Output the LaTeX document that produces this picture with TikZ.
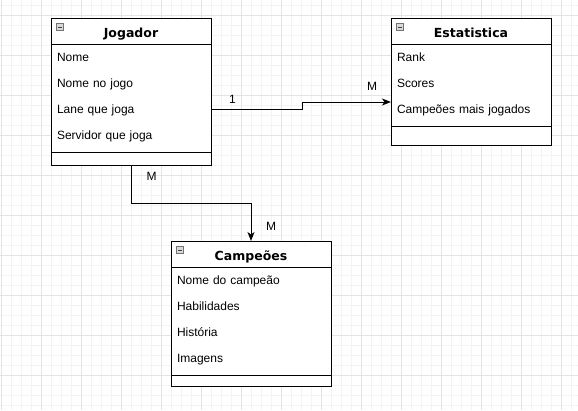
\documentclass[tikz,border=0pt]{standalone}
\usepackage{fontspec}
\setmainfont{Liberation Sans}
\newfontfamily\titlefont{DejaVu Sans}
\usepackage{tikz}
\usetikzlibrary{arrows.meta, positioning}
\definecolor{gridminor}{HTML}{F3F3F3}
\definecolor{gridmajor}{HTML}{E4E4E4}
\definecolor{iconfill}{HTML}{D9D9D9}

\begin{document}
\begin{tikzpicture}[x=1pt, y=-1pt,
    every node/.style={font=\fontsize{12}{14}\selectfont, inner sep=0pt, outer sep=0pt},
    classbox/.style={rectangle, draw=black, fill=white, line width=1pt, minimum width=160pt, anchor=north west},
    header/.style={rectangle, draw=black, line width=1pt, minimum width=160pt, minimum height=26pt, anchor=north west,
        text height=12pt, text depth=0pt, font=\titlefont\fontsize{12.5}{14}\selectfont\bfseries},
    attr/.style={rectangle, minimum width=160pt, minimum height=26pt, text width=148pt, align=left,
        text height=10pt, text depth=0.6pt},
    foot/.style={rectangle, draw=black, line width=1pt, minimum width=160pt, anchor=north west},
    icon/.style={rectangle, draw=black!55, fill=iconfill, line width=0.8pt, minimum size=7pt, anchor=north west,
        path picture={\draw[black!75, line width=1pt] ([xshift=1.5pt]path picture bounding box.west) -- ([xshift=-1.5pt]path picture bounding box.east);}},
    flow/.style={-{Stealth[length=9pt, width=7pt, inset=2.5pt]}, line width=1pt, color=black},
    card/.style={font=\fontsize{12}{14}\selectfont}
]
\useasboundingbox (0,0) rectangle (578,410);

% Grid
\foreach \gx in {1,11,...,571} \draw[gridminor, line width=0.6pt] (\gx,0) -- (\gx,410);
\foreach \gy in {5,15,...,405} \draw[gridminor, line width=0.6pt] (0,\gy) -- (578,\gy);
\foreach \gx in {1,41,...,561} \draw[gridmajor, line width=0.8pt] (\gx,0) -- (\gx,410);
\foreach \gy in {15,55,...,405} \draw[gridmajor, line width=0.8pt] (0,\gy) -- (578,\gy);

% Classes
\node[classbox, minimum height=147pt] (jogador)   at (51,18)  {};
\node[classbox, minimum height=127pt] (estatistica) at (391,18) {};
\node[classbox, minimum height=145pt] (campeoes)  at (171,241) {};

% Headers
\node[header] (jhead) at (51,18)  {Jogador};
\node[header] (ehead) at (391,18) {Estatistica};
\node[header] (chead) at (171,241) {Campeões};
\node[icon] (jicon) at (56.5,23.5)  {};
\node[icon] (eicon) at (396.5,23.5) {};
\node[icon] (cicon) at (176.5,246.5) {};

% Attributes
\node[attr, below=0pt of jhead] (jnome)  {Nome};
\node[attr, below=0pt of jnome] (jnick)  {Nome no jogo};
\node[attr, below=0pt of jnick] (jlane)  {Lane que joga};
\node[attr, below=0pt of jlane] (jserv)  {Servidor que joga};

\node[attr, below=0pt of ehead] (erank)  {Rank};
\node[attr, below=0pt of erank] (escore) {Scores};
\node[attr, below=0pt of escore] (ecamp) {Campeões mais jogados};

\node[attr, below=0pt of chead] (cnome)  {Nome do campeão};
\node[attr, below=0pt of cnome] (chab)   {Habilidades};
\node[attr, below=0pt of chab]  (chist)  {História};
\node[attr, below=0pt of chist] (cimg)   {Imagens};

% Methods (empty)
\node[foot, minimum height=13pt] (jfoot) at (51,152)  {};
\node[foot, minimum height=19pt] (efoot) at (391,126) {};
\node[foot, minimum height=11pt] (cfoot) at (171,375) {};

% Relations
\draw[flow] (jlane.east) -- ++(91,0) |- ([yshift=7pt]ecamp.west);
\draw[flow] (jogador.south) -- ++(0,38) -| (campeoes.north);

% Cardinalities
\node[card] (c1)  at (232.5,99)  {1};
\node[card] (c2)  at (372,86)    {M};
\node[card] (c3)  at (151.5,176) {M};
\node[card] (c4)  at (271,226)   {M};
\end{tikzpicture}
\end{document}
